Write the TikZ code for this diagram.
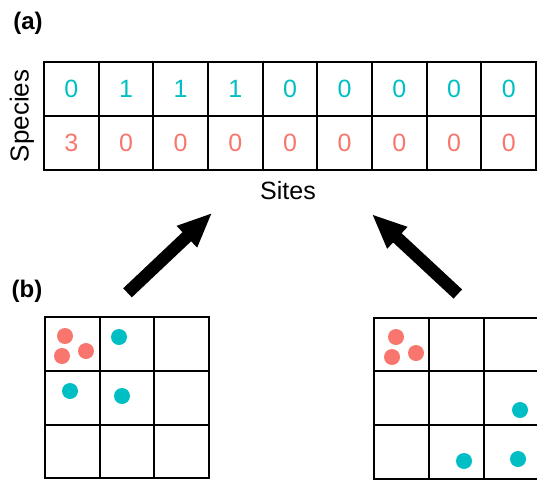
\documentclass[tikz,border=0pt]{standalone}
\usepackage{fontspec}
\setmainfont{Liberation Sans}
\usetikzlibrary{arrows.meta}
\definecolor{tealc}{HTML}{00BFC4}
\definecolor{coral}{HTML}{F8766D}
\begin{document}
\begin{tikzpicture}[x=1pt,y=-1pt,
  cellbox/.style={draw, line width=2pt, minimum width=54.67pt, minimum height=54pt,
    inner sep=0pt, font=\fontsize{25}{25}\selectfont},
  gridbox/.style={draw, line width=2pt, minimum width=54.8pt, minimum height=53.8pt, inner sep=0pt},
  dot/.style={circle, fill, inner sep=0pt, minimum size=16pt},
  bigarrow/.style={line width=12.5pt, -{Triangle[length=35pt,width=27pt]}},
  panel/.style={font=\bfseries\fontsize{24}{24}\selectfont},
]
\useasboundingbox (0,0) rectangle (537,479);

% panel labels
\node[panel] (pa) at (28,23) {(a)};
\node[panel] (pb) at (27,291) {(b)};

% species-by-sites count table
\foreach \v [count=\i] in {0,1,1,1,0,0,0,0,0}
  \node[cellbox, text=tealc] (s\i) at ({44+54.67*(\i-0.5)}, 88.75) {\v};
\foreach \v [count=\i] in {3,0,0,0,0,0,0,0,0}
  \node[cellbox, text=coral] (r\i) at ({44+54.67*(\i-0.5)}, 142.75) {\v};

\node[rotate=90, font=\fontsize{26}{26}\selectfont] (species) at (22,116) {Species};
\node[font=\fontsize{25}{25}\selectfont] (sites) at (288,191) {Sites};

% left lattice
\foreach \c in {1,2,3}
  \foreach \r in {1,2,3}
    \node[gridbox] (L\c\r) at ({44.7+54.8*(\c-0.5)}, {317+53.8*(\r-0.5)}) {};
% right lattice
\foreach \c in {1,2,3}
  \foreach \r in {1,2,3}
    \node[gridbox] (R\c\r) at ({374+54.8*(\c-0.5)}, {317.5+53.8*(\r-0.5)}) {};

% individuals in the left lattice
\node[dot, coral] (la) at (65,336) {};
\node[dot, coral] (lb) at (62,356) {};
\node[dot, coral] (lc) at (86,351) {};
\node[dot, tealc] (ld) at (119,337) {};
\node[dot, tealc] (le) at (70,391) {};
\node[dot, tealc] (lf) at (122,396) {};

% individuals in the right lattice
\node[dot, coral] (ra) at (396,337) {};
\node[dot, coral] (rb) at (392,357) {};
\node[dot, coral] (rc) at (416,353) {};
\node[dot, tealc] (rd) at (520,410) {};
\node[dot, tealc] (re) at (464,461) {};
\node[dot, tealc] (rf) at (518,459) {};

% arrows from lattices to the table
\coordinate (t1) at (127.5,292.8);
\coordinate (h1) at (212.3,212.7);
\coordinate (t2) at (457.8,294);
\coordinate (h2) at (371.7,214);
\draw[bigarrow] (t1) -- (h1);
\draw[bigarrow] (t2) -- (h2);
\end{tikzpicture}
\end{document}
